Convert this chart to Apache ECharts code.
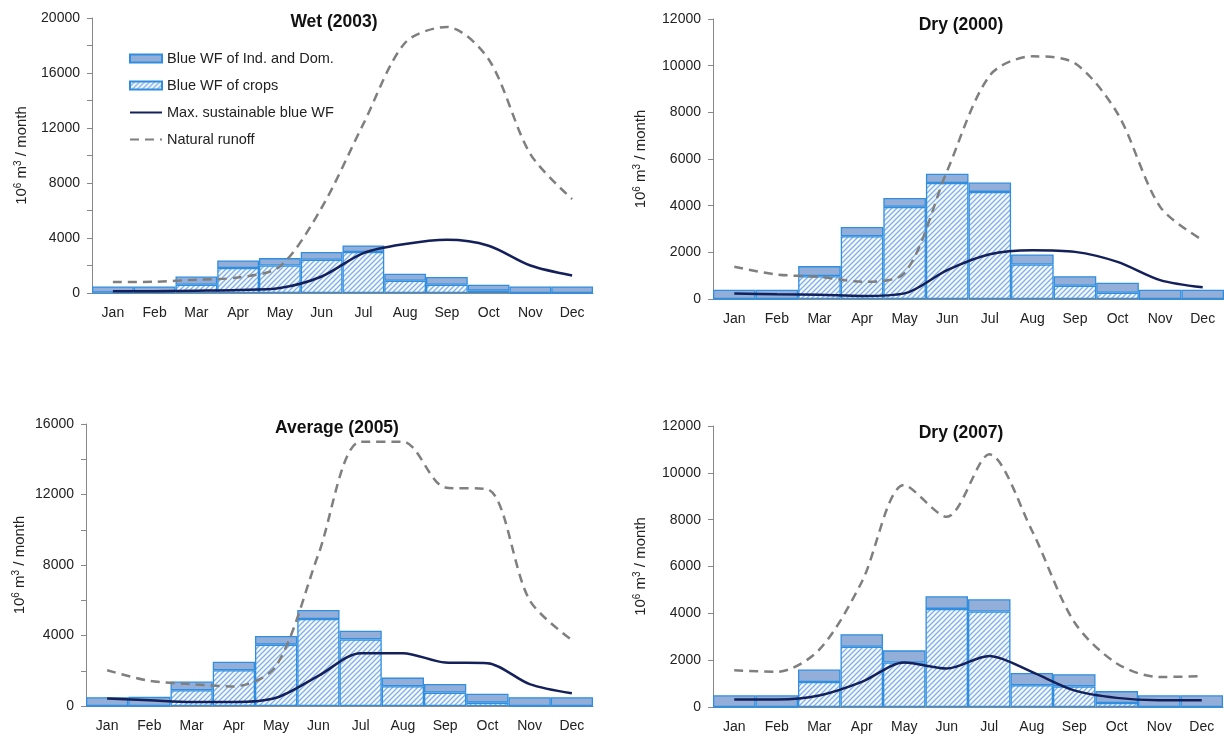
<!DOCTYPE html>
<html>
<head>
<meta charset="utf-8">
<script src="https://cdn.jsdelivr.net/npm/echarts@6/dist/echarts.min.js"></script>
<style>
  html, body { margin: 0; padding: 0; background: #fff; }
  #chart { width: 1224px; height: 738px; }
</style>
</head>
<body>
<div id="chart"></div>
<script>
// 月份
const months = ['Jan', 'Feb', 'Mar', 'Apr', 'May', 'Jun', 'Jul', 'Aug', 'Sep', 'Oct', 'Nov', 'Dec'];

// Wet (2003)
const wetCrops = [30, 50, 600, 1820, 2000, 2420, 2980, 890, 600, 170, 0, 0];
const wetIndDom = [450, 430, 600, 550, 540, 560, 480, 510, 560, 430, 480, 480];
const wetMaxSust = [120, 130, 170, 220, 360, 1200, 2900, 3560, 3870, 3440, 2000, 1280];
const wetRunoff = [800, 820, 970, 1130, 1930, 6200, 12300, 18200, 19350, 17000, 10100, 6830];

// Dry (2000)
const dry00Crops = [0, 0, 980, 2690, 3950, 4970, 4590, 1480, 570, 270, 0, 0];
const dry00IndDom = [400, 400, 430, 400, 380, 400, 400, 430, 410, 430, 400, 400];
const dry00MaxSust = [240, 200, 180, 130, 240, 1240, 1920, 2090, 2020, 1590, 810, 500];
const dry00Runoff = [1380, 1050, 950, 740, 1120, 5500, 9580, 10400, 10100, 7950, 3950, 2520];

// Average (2005)
const avgCrops = [0, 0, 895, 2030, 3480, 4940, 3780, 1120, 760, 190, 0, 0];
const avgIndDom = [500, 520, 495, 480, 490, 510, 490, 490, 490, 510, 500, 500];
const avgMaxSust = [420, 330, 230, 230, 470, 1710, 3000, 3000, 2470, 2430, 1240, 720];
const avgRunoff = [2030, 1430, 1240, 1110, 2280, 8600, 15000, 15000, 12400, 12300, 6000, 3740];

// Dry (2007)
const dry07Crops = [0, 0, 1070, 2570, 1900, 4190, 4080, 930, 880, 170, 0, 0];
const dry07IndDom = [500, 500, 530, 540, 520, 540, 520, 520, 520, 510, 500, 500];
const dry07MaxSust = [320, 320, 490, 1070, 1900, 1640, 2180, 1500, 710, 390, 290, 290];
const dry07Runoff = [1570, 1500, 2450, 5340, 9480, 8120, 10790, 7550, 3630, 1860, 1280, 1320];

const NAME_IND = 'Blue WF of Ind. and Dom.';
const NAME_CROPS = 'Blue WF of crops';
const NAME_MAX = 'Max. sustainable blue WF';
const NAME_RUN = 'Natural runoff';

const FONT = 'Arial, "Liberation Sans", sans-serif';

// 斜线填充
function hatch() {
    const c = document.createElement('canvas');
    c.width = 5;
    c.height = 5;
    const ctx = c.getContext('2d');
    ctx.fillStyle = '#f6f9fe';
    ctx.fillRect(0, 0, 5, 5);
    ctx.strokeStyle = '#7eb0e6';
    ctx.lineWidth = 1.3;
    ctx.beginPath();
    ctx.moveTo(0, 5); ctx.lineTo(5, 0);
    ctx.moveTo(-1, 1); ctx.lineTo(1, -1);
    ctx.moveTo(4, 6); ctx.lineTo(6, 4);
    ctx.stroke();
    return c;
}
const hatchFill = { image: hatch(), repeat: 'repeat' };

const panels = [
    { title: 'Wet (2003)', crops: wetCrops, ind: wetIndDom, maxs: wetMaxSust, run: wetRunoff, max: 20000, step: 4000 },
    { title: 'Dry (2000)', crops: dry00Crops, ind: dry00IndDom, maxs: dry00MaxSust, run: dry00Runoff, max: 12000, step: 2000 },
    { title: 'Average (2005)', crops: avgCrops, ind: avgIndDom, maxs: avgMaxSust, run: avgRunoff, max: 16000, step: 4000 },
    { title: 'Dry (2007)', crops: dry07Crops, ind: dry07IndDom, maxs: dry07MaxSust, run: dry07Runoff, max: 12000, step: 2000 }
];

// 布局
const layout = [
    { grid: { left: 92, top: 18, width: 501, height: 275 }, title: { x: 329, y: 8 }, nameGap: 62 },
    { grid: { left: 713, top: 19, width: 511, height: 280 }, title: { x: 956, y: 11 }, nameGap: 64 },
    { grid: { left: 86, top: 424, width: 507, height: 282 }, title: { x: 332, y: 414 }, nameGap: 58 },
    { grid: { left: 713, top: 426, width: 510, height: 281 }, title: { x: 956, y: 419 }, nameGap: 64 }
];

const option = {
    animation: false,
    backgroundColor: '#fff',
    textStyle: { fontFamily: FONT },
    title: [],
    grid: [],
    xAxis: [],
    yAxis: [],
    series: [],
    legend: {
        left: 124,
        top: 46,
        orient: 'vertical',
        itemWidth: 32,
        itemHeight: 8,
        itemGap: 12,
        textStyle: { fontSize: 14.5, color: '#222', fontFamily: FONT },
        data: [
            { name: NAME_IND, icon: 'rect' },
            { name: NAME_CROPS, icon: 'rect' },
            // 只要线, 隐藏圆点
            { name: NAME_MAX, itemStyle: { opacity: 0 } },
            { name: NAME_RUN, itemStyle: { opacity: 0 } }
        ]
    }
};

panels.forEach((p, i) => {
    const l = layout[i];
    option.title.push({
        text: p.title,
        left: l.title.x,
        top: l.title.y,
        textAlign: 'center',
        textStyle: { fontSize: 17.5, fontWeight: 'bold', color: '#111', fontFamily: FONT }
    });
    option.grid.push(l.grid);
    option.xAxis.push({
        type: 'category',
        gridIndex: i,
        data: months,
        axisLine: { lineStyle: { color: '#888' } },
        axisTick: { show: false },
        axisLabel: { fontSize: 14, color: '#222', margin: 13, fontFamily: FONT }
    });
    option.yAxis.push({
        type: 'value',
        gridIndex: i,
        min: 0,
        max: p.max,
        interval: 2000,
        name: '10{s|6} m{s|3} / month',
        nameLocation: 'middle',
        nameGap: l.nameGap,
        nameTextStyle: {
            fontSize: 15, color: '#222', fontFamily: FONT,
            rich: { s: { fontSize: 10, padding: [0, 0, 7, 0], fontFamily: FONT, color: '#222' } }
        },
        axisLine: { show: true, lineStyle: { color: '#888' } },
        axisTick: { show: true, length: 5, lineStyle: { color: '#888' } },
        splitLine: { show: false },
        axisLabel: {
            fontSize: 14, color: '#222', margin: 12, fontFamily: FONT,
            formatter: v => (v % p.step === 0 ? String(v) : '')
        }
    });
    option.series.push(
        {
            name: NAME_CROPS,
            type: 'bar',
            xAxisIndex: i,
            yAxisIndex: i,
            stack: 'wf' + i,
            barWidth: '100%',
            barCategoryGap: '0%',
            itemStyle: { color: hatchFill, borderColor: '#2f8ee0', borderWidth: 1.3 },
            data: p.crops
        },
        {
            name: NAME_IND,
            type: 'bar',
            xAxisIndex: i,
            yAxisIndex: i,
            stack: 'wf' + i,
            barWidth: '100%',
            barCategoryGap: '0%',
            itemStyle: { color: '#93afd9', borderColor: '#2f8ee0', borderWidth: 1.3 },
            data: p.ind
        },
        {
            name: NAME_MAX,
            type: 'line',
            xAxisIndex: i,
            yAxisIndex: i,
            symbol: 'none',
            smooth: 0.3,
            lineStyle: { color: '#14205a', width: 2.5 },
            itemStyle: { color: '#14205a' },
            data: p.maxs
        },
        {
            name: NAME_RUN,
            type: 'line',
            xAxisIndex: i,
            yAxisIndex: i,
            symbol: 'none',
            smooth: 0.3,
            lineStyle: { color: '#7f7f7f', width: 2.5, type: [9, 6] },
            itemStyle: { color: '#7f7f7f' },
            data: p.run
        }
    );
});

const chart = echarts.init(document.getElementById('chart'));
chart.setOption(option);
</script>
</body>
</html>
